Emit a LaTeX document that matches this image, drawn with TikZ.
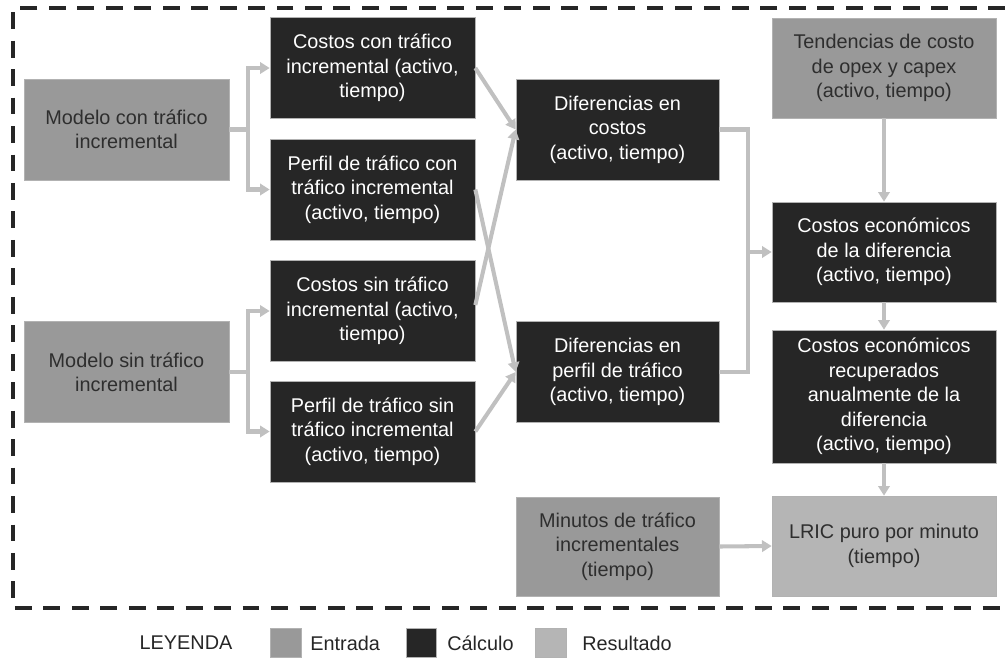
\documentclass[tikz,border=0pt]{standalone}
\usepackage{fontspec}
\setmainfont{Liberation Sans}
\usetikzlibrary{arrows.meta}
\definecolor{inputgray}{HTML}{999999}
\definecolor{calcblack}{HTML}{262626}
\definecolor{resultgray}{HTML}{B5B5B5}
\definecolor{arrowgray}{HTML}{C0C0C0}
\definecolor{textgray}{HTML}{2E2E2E}
\tikzstyle{box}=[rectangle, align=center, inner sep=0pt, draw=black!30, line width=0.4pt,
  font=\fontsize{11.3}{13.9}\selectfont]
\tikzstyle{entrada}=[box, fill=inputgray, text=textgray]
\tikzstyle{calculo}=[box, fill=calcblack, text=white]
\tikzstyle{resultado}=[box, fill=resultgray, text=textgray]
\tikzstyle{leftcol}=[minimum width=4.1cm, minimum height=2.02cm]
\tikzstyle{midcol}=[minimum width=4.06cm, minimum height=2.02cm]
\tikzstyle{rightcol}=[minimum width=4.48cm, minimum height=2.0cm]
\tikzstyle{flow}=[draw=arrowgray, line width=2.3pt, -{Triangle[length=5.5pt,width=6.5pt]}]
\tikzstyle{feed}=[draw=arrowgray, line width=2.3pt]
\tikzstyle{frame}=[draw=black!85, line width=1.8pt, dash pattern=on 9.6pt off 6.6pt]
\tikzstyle{legendtext}=[font=\fontsize{11.3}{13.9}\selectfont, text=black!85, inner sep=0pt]

\begin{document}
\begin{tikzpicture}[x=0.02cm, y=-0.02cm]
  \useasboundingbox (0,0) rectangle (1005,657);

  % dashed frame
  \draw [style=frame] (1005,8) -- (13,8) -- (13,608) -- (1005,608);

  % models
  \node (mcon) [entrada, leftcol] at (126.5,129.5) {Modelo con tráfico\\incremental};
  \node (msin) [entrada, leftcol] at (126.5,372) {Modelo sin tráfico\\incremental};

  % costs and profiles
  \node (ccon) [calculo, leftcol] at (372.5,68) {Costos con tráfico\\incremental (activo,\\tiempo)};
  \node (pcon) [calculo, leftcol] at (372.5,189.5) {Perfil de tráfico con\\tráfico incremental\\(activo, tiempo)};
  \node (csin) [calculo, leftcol] at (372.5,311) {Costos sin tráfico\\incremental (activo,\\tiempo)};
  \node (psin) [calculo, leftcol] at (372.5,431.5) {Perfil de tráfico sin\\tráfico incremental\\(activo, tiempo)};

  % differences
  \node (dcos) [calculo, midcol] at (617.5,129.5) {Diferencias en\\costos\\(activo, tiempo)};
  \node (dper) [calculo, midcol] at (617.5,372) {Diferencias en\\perfil de tráfico\\(activo, tiempo)};
  \node (minu) [entrada, midcol, minimum height=1.98cm] at (617.5,546.5) {Minutos de tráfico\\incrementales\\(tiempo)};

  % right column
  \node (tend) [entrada, rightcol] at (884,68) {Tendencias de costo\\de opex y capex\\(activo, tiempo)};
  \node (ceco) [calculo, rightcol] at (884,252) {Costos económicos\\de la diferencia\\(activo, tiempo)};
  \node (crec) [calculo, rightcol, minimum height=2.66cm] at (884,396.5) {Costos económicos\\recuperados\\anualmente de la\\diferencia\\(activo, tiempo)};
  \node (lric) [resultado, rightcol] at (884,546) {LRIC puro por minuto\\(tiempo)};

  % connections
  \draw [style=flow] (mcon.east) -- ++(19,0) |- (ccon.west);
  \draw [style=flow] (mcon.east) -- ++(19,0) |- (pcon.west);
  \draw [style=flow] (msin.east) -- ++(19,0) |- (csin.west);
  \draw [style=flow] (msin.east) -- ++(19,0) |- (psin.west);
  \draw [style=flow] (ccon.east) -- (dcos.west);
  \draw [style=flow] ([yshift=0.12cm]csin.east) -- (dcos.west);
  \draw [style=flow] (pcon.east) -- (dper.west);
  \draw [style=flow] (psin.east) -- (dper.west);
  \coordinate (join) at (748,252);
  \draw [style=feed] (dper.east) -| (join);
  \draw [style=flow] (dcos.east) -| (join) -- (ceco.west);
  \draw [style=flow] (tend.south) -- (ceco.north);
  \draw [style=flow] (ceco.south) -- (crec.north);
  \draw [style=flow] (crec.south) -- (lric.north);
  \draw [style=flow] (minu.east) -- (lric.west);

  % legend
  \node (ley) [legendtext] at (186,643) {LEYENDA};
  \node (swin) [entrada, minimum width=0.62cm, minimum height=0.58cm] at (286,642.5) {};
  \node (lin) [legendtext, anchor=west] at (310,643) {Entrada};
  \node (swcal) [calculo, minimum width=0.6cm, minimum height=0.58cm] at (421,642.5) {};
  \node (lcal) [legendtext, anchor=west] at (447,643) {Cálculo};
  \node (swres) [resultado, minimum width=0.62cm, minimum height=0.58cm] at (550.5,642.5) {};
  \node (lres) [legendtext, anchor=west] at (582,643) {Resultado};
\end{tikzpicture}
\end{document}
